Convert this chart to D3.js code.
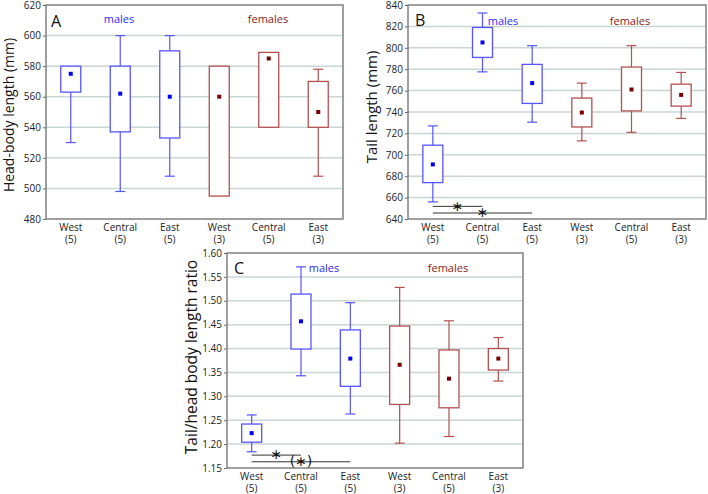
<!DOCTYPE html>
<html><head><meta charset="utf-8">
<script src="https://cdn.jsdelivr.net/npm/d3@7"></script>
<style>body{margin:0;background:#fff}svg{display:block}text{font-family:"Open Sans",sans-serif}</style>
</head><body>
<svg id="chart" width="708" height="494"></svg>
<script>
// ---- data ----
const categories = ["West","Central","East","West","Central","East"];
const sampleSizes = ["(5)","(5)","(5)","(3)","(5)","(3)"];
const sexes = ["m","m","m","f","f","f"];

// Panel A: head-body length (mm)
const headTicks = [480,500,520,540,560,580,600,620];
const headMean = [575,562,560,560,585,550];
const headQ1   = [563,537,533,495,540,540];
const headQ3   = [580,580,590,580,589,570];
const headMin  = [530,498,508,495,540,508];
const headMax  = [580,600,600,580,589,578];

// Panel B: tail length (mm)
const tailTicks = [640,660,680,700,720,740,760,780,800,820,840];
const tailMean = [691,805,767,739.5,761,756];
const tailQ1   = [674,791,748,726,741,745.5];
const tailQ3   = [709,819,784.5,753,782,766];
const tailMin  = [656,777.5,730.5,713,721,734];
const tailMax  = [727,832.5,802,767,802,777];
const tailSig = [{from:0,to:1,y:651.8,label:"∗"},{from:0,to:2,y:645.6,label:"∗"}];

// Panel C: tail / head-body ratio
const ratioTicks = [1.15,1.20,1.25,1.30,1.35,1.40,1.45,1.50,1.55,1.60];
const ratioMean = [1.223,1.457,1.379,1.366,1.337,1.379];
const ratioQ1   = [1.204,1.399,1.321,1.283,1.276,1.355];
const ratioQ3   = [1.242,1.514,1.439,1.447,1.397,1.400];
const ratioMin  = [1.184,1.343,1.263,1.202,1.216,1.332];
const ratioMax  = [1.261,1.571,1.496,1.528,1.458,1.423];
const ratioSig = [{from:0,to:1,y:1.177,label:"∗"},{from:0,to:2,y:1.163,label:"(∗)"}];

// ---- drawing ----
const svg = d3.select("#chart");
const boxColor = {m:"#5555ff", f:"#b25050"};
const meanColor = {m:"#0000ee", f:"#7a0000"};
const labelColor = {m:"#2b2bff", f:"#8b1a1a"};

function panel(cfg){
  const g = svg.append("g");
  const x = d3.scalePoint().domain(d3.range(categories.length)).range([cfg.left,cfg.right]).padding(0.5);
  const y = d3.scaleLinear().domain(cfg.domain).range([cfg.bottom,cfg.top]);
  // grid
  g.selectAll(".grid").data(cfg.ticks.slice(1,-1)).join("line")
    .attr("x1",cfg.left).attr("x2",cfg.right)
    .attr("y1",d=>y(d)).attr("y2",d=>y(d))
    .attr("stroke","#c9d6d6").attr("stroke-width",1.5);
  // y axis
  const ya = d3.axisLeft(y).tickValues(cfg.ticks).tickFormat(cfg.fmt).tickSize(3).tickPadding(2);
  const yg = g.append("g").attr("transform",`translate(${cfg.left},0)`).call(ya);
  yg.select(".domain").remove();
  yg.selectAll("line").attr("stroke","#666");
  yg.selectAll("text").attr("font-size",10).attr("fill","#222");
  // frame
  g.append("rect").attr("x",cfg.left).attr("y",cfg.top)
    .attr("width",cfg.right-cfg.left).attr("height",cfg.bottom-cfg.top)
    .attr("fill","none").attr("stroke","#808080").attr("stroke-width",1.5);
  // x labels (two lines)
  g.selectAll(".xl1").data(categories).join("text")
    .attr("x",(d,i)=>x(i)).attr("y",cfg.bottom+12)
    .attr("text-anchor","middle").attr("font-size",10).attr("fill","#222").text(d=>d);
  g.selectAll(".xl2").data(sampleSizes).join("text")
    .attr("x",(d,i)=>x(i)).attr("y",cfg.bottom+24)
    .attr("text-anchor","middle").attr("font-size",10).attr("fill","#222").text(d=>d);
  // boxes
  const bw = 20, cw = 10;
  const idx = d3.range(categories.length);
  const bg = g.selectAll(".box").data(idx).join("g");
  const stroke = i=>boxColor[sexes[i]];
  bg.append("line").attr("x1",i=>x(i)).attr("x2",i=>x(i))
    .attr("y1",i=>y(cfg.max[i])).attr("y2",i=>y(cfg.q3[i]))
    .attr("stroke",stroke).attr("stroke-width",1.2);
  bg.append("line").attr("x1",i=>x(i)).attr("x2",i=>x(i))
    .attr("y1",i=>y(cfg.q1[i])).attr("y2",i=>y(cfg.min[i]))
    .attr("stroke",stroke).attr("stroke-width",1.2);
  bg.filter(i=>cfg.max[i]>cfg.q3[i]).append("line").attr("x1",i=>x(i)-cw/2).attr("x2",i=>x(i)+cw/2)
    .attr("y1",i=>y(cfg.max[i])).attr("y2",i=>y(cfg.max[i]))
    .attr("stroke",stroke).attr("stroke-width",1.2);
  bg.filter(i=>cfg.min[i]<cfg.q1[i]).append("line").attr("x1",i=>x(i)-cw/2).attr("x2",i=>x(i)+cw/2)
    .attr("y1",i=>y(cfg.min[i])).attr("y2",i=>y(cfg.min[i]))
    .attr("stroke",stroke).attr("stroke-width",1.2);
  bg.append("rect").attr("x",i=>x(i)-bw/2).attr("width",bw)
    .attr("y",i=>y(cfg.q3[i])).attr("height",i=>y(cfg.q1[i])-y(cfg.q3[i]))
    .attr("fill","#fff").attr("stroke",stroke).attr("stroke-width",1.3);
  bg.append("rect").attr("x",i=>x(i)-2).attr("y",i=>y(cfg.mean[i])-2)
    .attr("width",4).attr("height",4).attr("fill",i=>meanColor[sexes[i]]);
  // significance
  if(cfg.sig){
    const sg = g.selectAll(".sig").data(cfg.sig).join("g");
    sg.append("line").attr("x1",d=>x(d.from)).attr("x2",d=>x(d.to))
      .attr("y1",d=>y(d.y)).attr("y2",d=>y(d.y)).attr("stroke","#333").attr("stroke-width",1);
    sg.append("text").attr("x",d=>(x(d.from)+x(d.to))/2).attr("y",d=>y(d.y)+4.2)
      .attr("text-anchor","middle").attr("font-size",14)
      .style("font-family","'DejaVu Sans',sans-serif").attr("fill","#111").text(d=>d.label);
  }
  // letters and group labels
  g.append("text").attr("x",cfg.letterX).attr("y",cfg.letterY).attr("font-size",16).attr("fill","#111").text(cfg.letter);
  g.append("text").attr("x",cfg.malesX).attr("y",cfg.groupY).attr("text-anchor","middle")
    .attr("font-size",11).attr("fill",labelColor.m).text("males");
  g.append("text").attr("x",cfg.femalesX).attr("y",cfg.groupY).attr("text-anchor","middle")
    .attr("font-size",11).attr("fill",labelColor.f).text("females");
  // y title
  g.append("text").attr("transform",`translate(${cfg.titleX},${cfg.titleY}) rotate(-90)`)
    .attr("text-anchor","middle").attr("dominant-baseline","middle")
    .attr("font-size",cfg.titleSize).attr("fill","#111").text(cfg.title);
}

panel({left:46,right:343,top:5,bottom:219,domain:[480,620],ticks:headTicks,fmt:d3.format("d"),
  mean:headMean,q1:headQ1,q3:headQ3,min:headMin,max:headMax,
  letter:"A",letterX:51,letterY:27,malesX:119,femalesX:268,groupY:23,
  title:"Head-body length (mm)",titleX:10.5,titleY:115,titleSize:14});
panel({left:408,right:706,top:5,bottom:219,domain:[640,840],ticks:tailTicks,fmt:d3.format("d"),
  mean:tailMean,q1:tailQ1,q3:tailQ3,min:tailMin,max:tailMax,sig:tailSig,
  letter:"B",letterX:415,letterY:26,malesX:503,femalesX:630,groupY:25,
  title:"Tail length (mm)",titleX:373,titleY:107,titleSize:15});
panel({left:227,right:523,top:253,bottom:468,domain:[1.15,1.60],ticks:ratioTicks,fmt:d3.format(".2f"),
  mean:ratioMean,q1:ratioQ1,q3:ratioQ3,min:ratioMin,max:ratioMax,sig:ratioSig,
  letter:"C",letterX:234,letterY:274,malesX:324,femalesX:448,groupY:272,
  title:"Tail/head body length ratio",titleX:193,titleY:357,titleSize:15.5});
</script>
</body></html>
